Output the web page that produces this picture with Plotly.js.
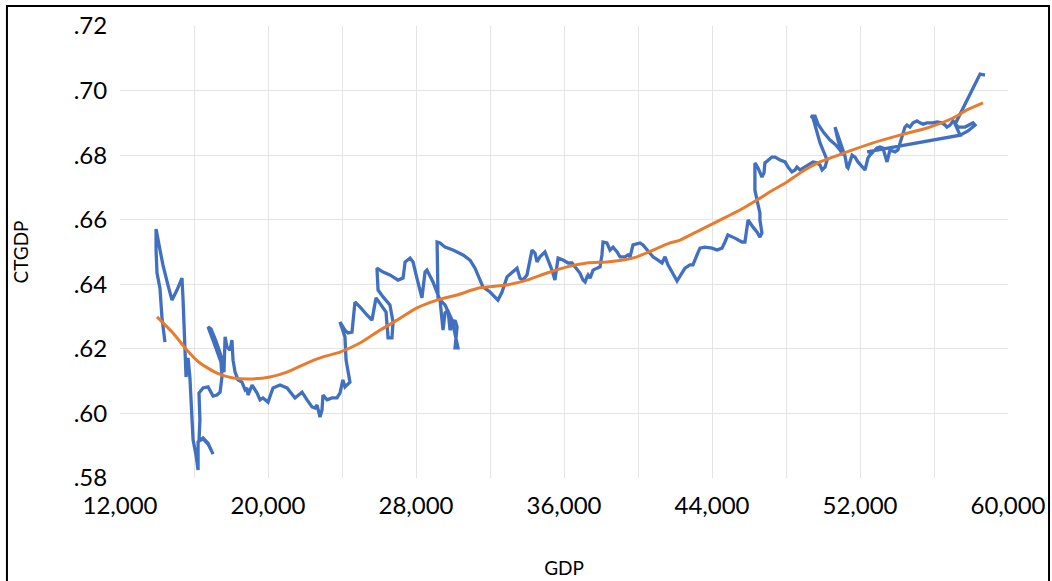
<!DOCTYPE html>
<html>
<head>
<meta charset="utf-8">
<script src="https://cdn.plot.ly/plotly-3.0.1.min.js"></script>
<style>html,body{margin:0;padding:0;background:#fff;}#chart{width:1052px;height:581px;}</style>
</head>
<body>
<div id="chart"></div>
<script>
// Blue series: GDP vs CTGDP (path in data order)
const gdp = [14430,14270,14160,14000,13950,13950,14110,14320,14590,14810,15080,15350,15410,15510,15570,15680,15780,15840,15950,16110,
16220,16220,16490,16760,17030,16760,16490,16270,16320,16270,16490,16760,17030,17240,17410,17510,17460,17300,17030,16760,
16920,17190,17460,17620,17680,17780,17950,18050,18110,18220,18380,18590,18760,18860,18920,19140,19410,19570,19730,20000,
20270,20650,21030,21460,21840,22110,22380,22540,22650,22810,22920,22970,23190,23460,23730,23890,24050,24160,24430,24220,
24160,23890,24160,24320,24540,24700,24970,25350,25620,25840,26220,26380,26490,26700,26760,26590,26220,25950,25890,26220,
26590,27030,27300,27410,27680,27840,28050,28320,28490,28590,28920,29300,29460,29570,29730,29840,30000,30110,30220,30110,
30270,29950,29570,29190,29140,29300,29570,30000,30540,30920,31190,31350,31620,32000,32430,32650,32810,32920,33460,33620,
33780,34000,34270,34430,34540,34700,34970,35140,35350,35510,35680,35950,36220,36430,36590,36760,36860,37030,37140,37240,
37300,37410,37510,37570,37780,37950,38050,38110,38320,38490,38650,38870,39030,39300,39460,39570,39730,40110,40270,40490,
40810,41080,41300,41460,41620,41840,42110,42380,42540,42810,42970,43190,43350,43620,44000,44270,44540,44700,44860,45240,
45620,45780,45950,46220,46430,46590,46700,46590,46590,46490,46430,46320,46320,46490,46700,46810,46860,47030,47240,47410,
47680,47950,48110,48320,48490,48590,48760,48920,49190,49460,49680,49840,49950,50110,50220,49840,49460,49350,49570,49730,
50050,50380,50700,50920,51080,50810,50650,50810,51030,51190,51300,51350,51570,51730,51890,52110,52270,52430,52540,52920,
53080,53240,53460,53620,53890,54050,54160,54270,54430,54540,54700,54870,55080,55240,55410,55620,55950,56160,56430,56600,
56700,56870,57030,57300,57680,58110,58220,57840,57410,52380,57410,57140,58490,58760];
const ctgdp = [.6221,.6296,.6388,.6435,.6506,.6571,.6522,.6460,.6398,.6351,.6382,.6419,.6351,.6196,.6113,.6172,.6110,.6042,.5918,.5871,
.5825,.5912,.5924,.5908,.5874,.5905,.5921,.5915,.5980,.6063,.6079,.6082,.6054,.6057,.6066,.6113,.6159,.6187,.6227,.6268,
.6261,.6224,.6178,.6128,.6237,.6206,.6196,.6227,.6165,.6128,.6104,.6097,.6073,.6079,.6057,.6088,.6063,.6042,.6048,.6035,
.6079,.6088,.6079,.6048,.6066,.6042,.6020,.6017,.6026,.5989,.6011,.6057,.6042,.6048,.6048,.6063,.6104,.6082,.6097,.6165,
.6237,.6283,.6258,.6249,.6252,.6345,.6330,.6305,.6289,.6358,.6327,.6314,.6234,.6234,.6283,.6336,.6361,.6382,.6450,.6438,
.6429,.6413,.6419,.6469,.6481,.6469,.6419,.6358,.6438,.6444,.6407,.6351,.6258,.6311,.6320,.6258,.6280,.6289,.6268,.6203,
.6203,.6289,.6336,.6358,.6531,.6528,.6515,.6506,.6491,.6475,.6450,.6429,.6392,.6376,.6351,.6376,.6404,.6423,.6450,.6419,
.6413,.6429,.6506,.6497,.6469,.6485,.6500,.6475,.6444,.6413,.6481,.6475,.6466,.6466,.6454,.6444,.6435,.6413,.6407,.6423,
.6429,.6419,.6438,.6444,.6450,.6454,.6491,.6531,.6528,.6506,.6515,.6500,.6485,.6485,.6491,.6485,.6522,.6528,.6522,.6506,
.6485,.6475,.6466,.6485,.6460,.6438,.6410,.6435,.6450,.6460,.6460,.6491,.6512,.6515,.6512,.6506,.6512,.6531,.6553,.6543,
.6531,.6531,.6599,.6577,.6562,.6546,.6559,.6599,.6621,.6646,.6667,.6692,.6776,.6760,.6732,.6745,.6776,.6785,.6794,.6794,
.6785,.6779,.6763,.6748,.6754,.6763,.6754,.6760,.6769,.6779,.6776,.6769,.6754,.6763,.6785,.6838,.6915,.6921,.6921,.6896,
.6869,.6847,.6831,.6816,.6800,.6847,.6887,.6862,.6828,.6797,.6763,.6760,.6800,.6794,.6779,.6763,.6754,.6791,.6800,.6822,
.6825,.6822,.6779,.6816,.6810,.6816,.6838,.6856,.6887,.6893,.6887,.6900,.6906,.6900,.6896,.6900,.6900,.6903,.6900,.6893,
.6887,.6893,.6906,.6887,.6887,.6900,.6893,.6875,.6862,.6810,.6862,.6896,.7051,.7048];

// Orange series: smoothed fit
const fitGdp = [14000,14865,15622,16324,17243,18108,19135,20108,21027,22108,22973,23892,24973,26054,26973,28054,29135,30216,31459,32919,
34000,35081,36162,37243,38324,39189,39946,40811,41730,42270,43351,44432,45514,46432,47297,48054,48757,49838,51297,52703,
54162,55622,57027,57784,58649];
const fitCt = [.6299,.6249,.6196,.6156,.6125,.6110,.6107,.6113,.6128,.6156,.6175,.6190,.6218,.6258,.6289,.6327,.6351,.6367,.6389,.6398,
.6413,.6435,.6454,.6466,.6469,.6475,.6485,.6506,.6528,.6537,.6568,.6599,.6630,.6661,.6692,.6717,.6745,.6779,.6810,.6838,
.6862,.6884,.6915,.6940,.6962];

// Axis ticks and gridlines
const xTickVals = [12000,20000,28000,36000,44000,52000,60000];
const xTickText = ['12,000','20,000','28,000','36,000','44,000','52,000','60,000'];
const yTickVals = [0.58,0.60,0.62,0.64,0.66,0.68,0.70,0.72];
const yTickText = ['.58','.60','.62','.64','.66','.68','.70','.72'];
const xGridVals = [16000,20000,24000,28000,32000,36000,40000,44000,48000,52000,56000];
const yGridVals = [0.60,0.62,0.64,0.66,0.68,0.70];

const FONT = 'Lato, "Liberation Sans", sans-serif';
const xRange = [12000, 60000];
const yRange = [0.58, 0.72];

const traces = [
  {x:[null], y:[null], xaxis:'x', yaxis:'y', mode:'lines', showlegend:false, hoverinfo:'skip'},
  {x:gdp, y:ctgdp, xaxis:'x2', yaxis:'y2', mode:'lines', name:'CTGDP',
   line:{color:'#4170C0', width:3.3, shape:'linear'}, showlegend:false},
  {x:fitGdp, y:fitCt, xaxis:'x2', yaxis:'y2', mode:'lines', name:'Fit',
   line:{color:'#E97B2E', width:3, shape:'spline', smoothing:0.6}, showlegend:false}
];

const layout = {
  width:1052, height:581,
  margin:{l:120, r:44, t:26, b:103, pad:0},
  paper_bgcolor:'#ffffff', plot_bgcolor:'#ffffff',
  showlegend:false,
  font:{family:FONT, color:'#000000'},
  xaxis:{range:xRange, tickvals:xGridVals, showticklabels:false, showgrid:true,
         gridcolor:'#e4e4e4', gridwidth:1, zeroline:false, showline:false, ticks:''},
  yaxis:{range:yRange, tickvals:yGridVals, showticklabels:false, showgrid:true,
         gridcolor:'#e4e4e4', gridwidth:1, zeroline:false, showline:false, ticks:''},
  xaxis2:{overlaying:'x', anchor:'y2', side:'bottom', range:xRange,
          tickmode:'array', tickvals:xTickVals, ticktext:xTickText,
          showgrid:false, zeroline:false, showline:false,
          ticks:'outside', ticklen:6, tickcolor:'rgba(0,0,0,0)',
          tickfont:{family:FONT, size:24, color:'#000'},
          title:{text:'GDP', font:{family:FONT, size:19, color:'#000'}, standoff:43}},
  yaxis2:{overlaying:'y', anchor:'x2', side:'left', range:yRange,
          tickmode:'array', tickvals:yTickVals, ticktext:yTickText,
          showgrid:false, zeroline:false, showline:false,
          ticks:'outside', ticklen:7, tickcolor:'rgba(0,0,0,0)',
          tickfont:{family:FONT, size:24, color:'#000'},
          title:{text:'CTGDP', font:{family:FONT, size:19, color:'#000'}, standoff:40}},
  shapes:[
    {type:'rect', xref:'paper', yref:'paper', x0:-0.1273, x1:1.0462, y0:-0.35, y1:1.0442,
     line:{color:'#000000', width:2}, fillcolor:'rgba(0,0,0,0)', layer:'above'}
  ]
};

Plotly.newPlot('chart', traces, layout, {staticPlot:true, displayModeBar:false});
</script>
</body>
</html>
